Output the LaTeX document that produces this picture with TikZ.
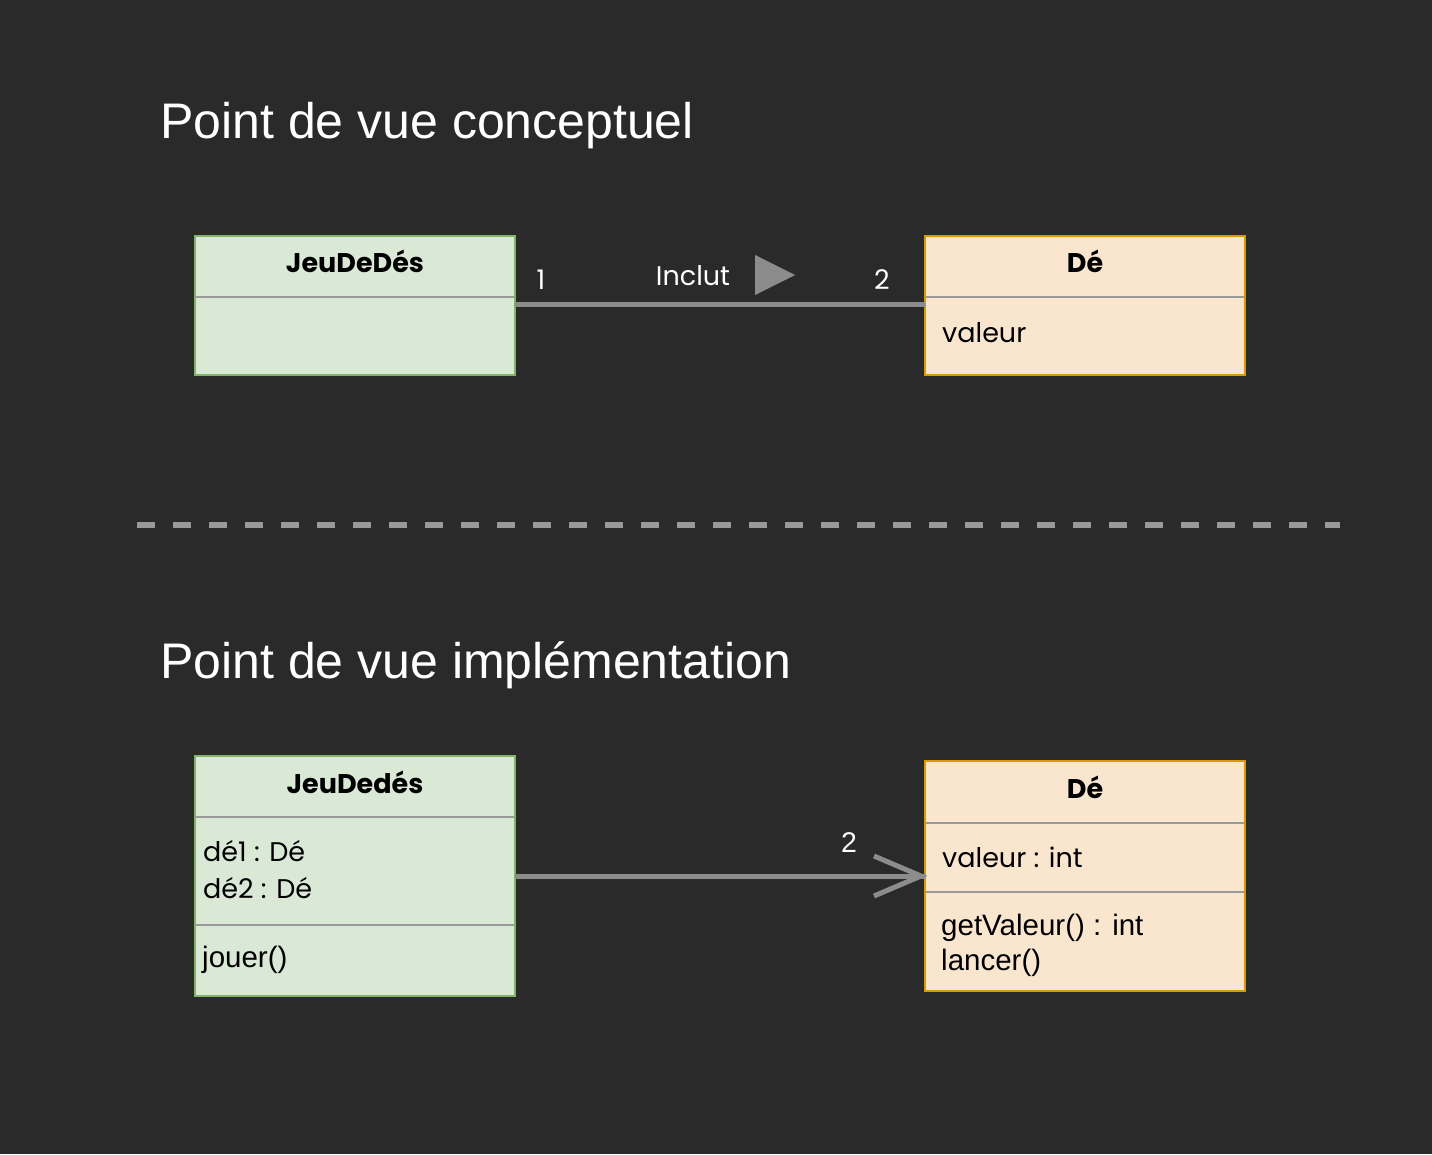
\documentclass[tikz,border=0pt]{standalone}
\usepackage{fontspec}
\setmainfont{Liberation Sans}
\newfontfamily\comic{Poppins}
\definecolor{bg}{HTML}{2A2A2A}
\definecolor{gfill}{HTML}{DAE8D6}
\definecolor{gline}{HTML}{82B366}
\definecolor{ofill}{HTML}{FAE6CE}
\definecolor{oline}{HTML}{D79B00}
\definecolor{sep}{HTML}{999999}
\definecolor{conn}{HTML}{8C8C8C}
\tikzset{
  greenbox/.style={draw=gline, fill=gfill, line width=2pt, inner sep=0pt, outer sep=0pt, minimum width=320pt},
  orangebox/.style={draw=oline, fill=ofill, line width=2pt, inner sep=0pt, outer sep=0pt, minimum width=320pt},
  divider/.style={draw=sep, line width=2.5pt},
  title/.style={anchor=base west, inner sep=0pt, text=white, font=\fontsize{50}{55}\selectfont},
  head/.style={anchor=base, inner sep=0pt, text=black, font=\comic\bfseries\fontsize{27}{30}\selectfont},
  attr/.style={anchor=base west, inner sep=0pt, text=black, font=\comic\fontsize{27}{30}\selectfont},
  meth/.style={anchor=base west, inner sep=0pt, text=black, font=\fontsize{29.5}{33}\selectfont},
  lbl/.style={anchor=base, inner sep=0pt, text=white, font=\comic\fontsize{27}{30}\selectfont},
  hlbl/.style={anchor=base, inner sep=0pt, text=white, font=\fontsize{28.5}{32}\selectfont},
  connector/.style={draw=conn, line width=5pt},
}
\begin{document}
\begin{tikzpicture}[x=1pt,y=-1pt]
\fill[bg] (0,0) rectangle (1432,1154);
\useasboundingbox (0,0) rectangle (1432,1154);

% titles
\node[title] (t1) at (160,138) {Point de vue conceptuel};
\node[title] (t2) at (160,678) {Point de vue implémentation};

% separator
\coordinate (sepL) at (137,525);
\coordinate (sepR) at (1340,525);
\draw[sep, line width=6pt, dash pattern=on 18pt off 18pt] (sepL) -- (sepR);

% ---- conceptual ----
\node[greenbox, minimum height=139pt, anchor=north west] (jeu1) at (195,236) {};
\draw[divider] (196,297) -- (514,297);
\node[head] (jeu1n) at (355,272) {JeuDeDés};

\node[orangebox, minimum height=139pt, anchor=north west] (de1) at (925,236) {};
\draw[divider] (926,297) -- (1244,297);
\node[head] (de1n) at (1085,272) {Dé};
\node[attr] (de1a) at (942,342) {valeur};

\coordinate (c1a) at (jeu1.east |- 0,304);
\coordinate (c1b) at (de1.west |- 0,304);
\draw[connector] (c1a) -- (c1b);
\node[lbl] (m1) at (541,289) {1};
\node[lbl] (inc) at (693,285) {Inclut};
\node[lbl] (m2) at (882,289) {2};
\fill[conn] (755,255) -- (795,275) -- (755,295) -- cycle;

% ---- implementation ----
\node[greenbox, minimum height=240pt, anchor=north west] (jeu2) at (195,756) {};
\draw[divider] (196,817) -- (514,817);
\draw[divider] (196,925) -- (514,925);
\node[head] (jeu2n) at (355,793) {JeuDedés};
\node[attr] (jeu2a1) at (203,861) {dé1 : Dé};
\node[attr] (jeu2a2) at (203,898) {dé2 : Dé};
\node[meth] (jeu2m) at (202,967) {jouer()};

\node[orangebox, minimum height=230pt, anchor=north west] (de2) at (925,761) {};
\draw[divider] (926,823) -- (1244,823);
\draw[divider] (926,892) -- (1244,892);
\node[head] (de2n) at (1085,798) {Dé};
\node[attr] (de2a) at (942,867) {valeur : int};
\node[meth] (de2m1) at (941,935) {getValeur() : int};
\node[meth] (de2m2) at (941,970) {lancer()};

\coordinate (c2a) at (jeu2.east |- 0,876);
\coordinate (c2b) at (de2.west |- 0,876);
\coordinate (tip) at ([xshift=-4pt]c2b);
\draw[connector] (c2a) -- (c2b);
\draw[connector, line join=miter] (tip) ++(-47,-20) -- (tip) -- ++(-47,20);
\node[hlbl] (m3) at (849,852) {2};
\end{tikzpicture}
\end{document}
